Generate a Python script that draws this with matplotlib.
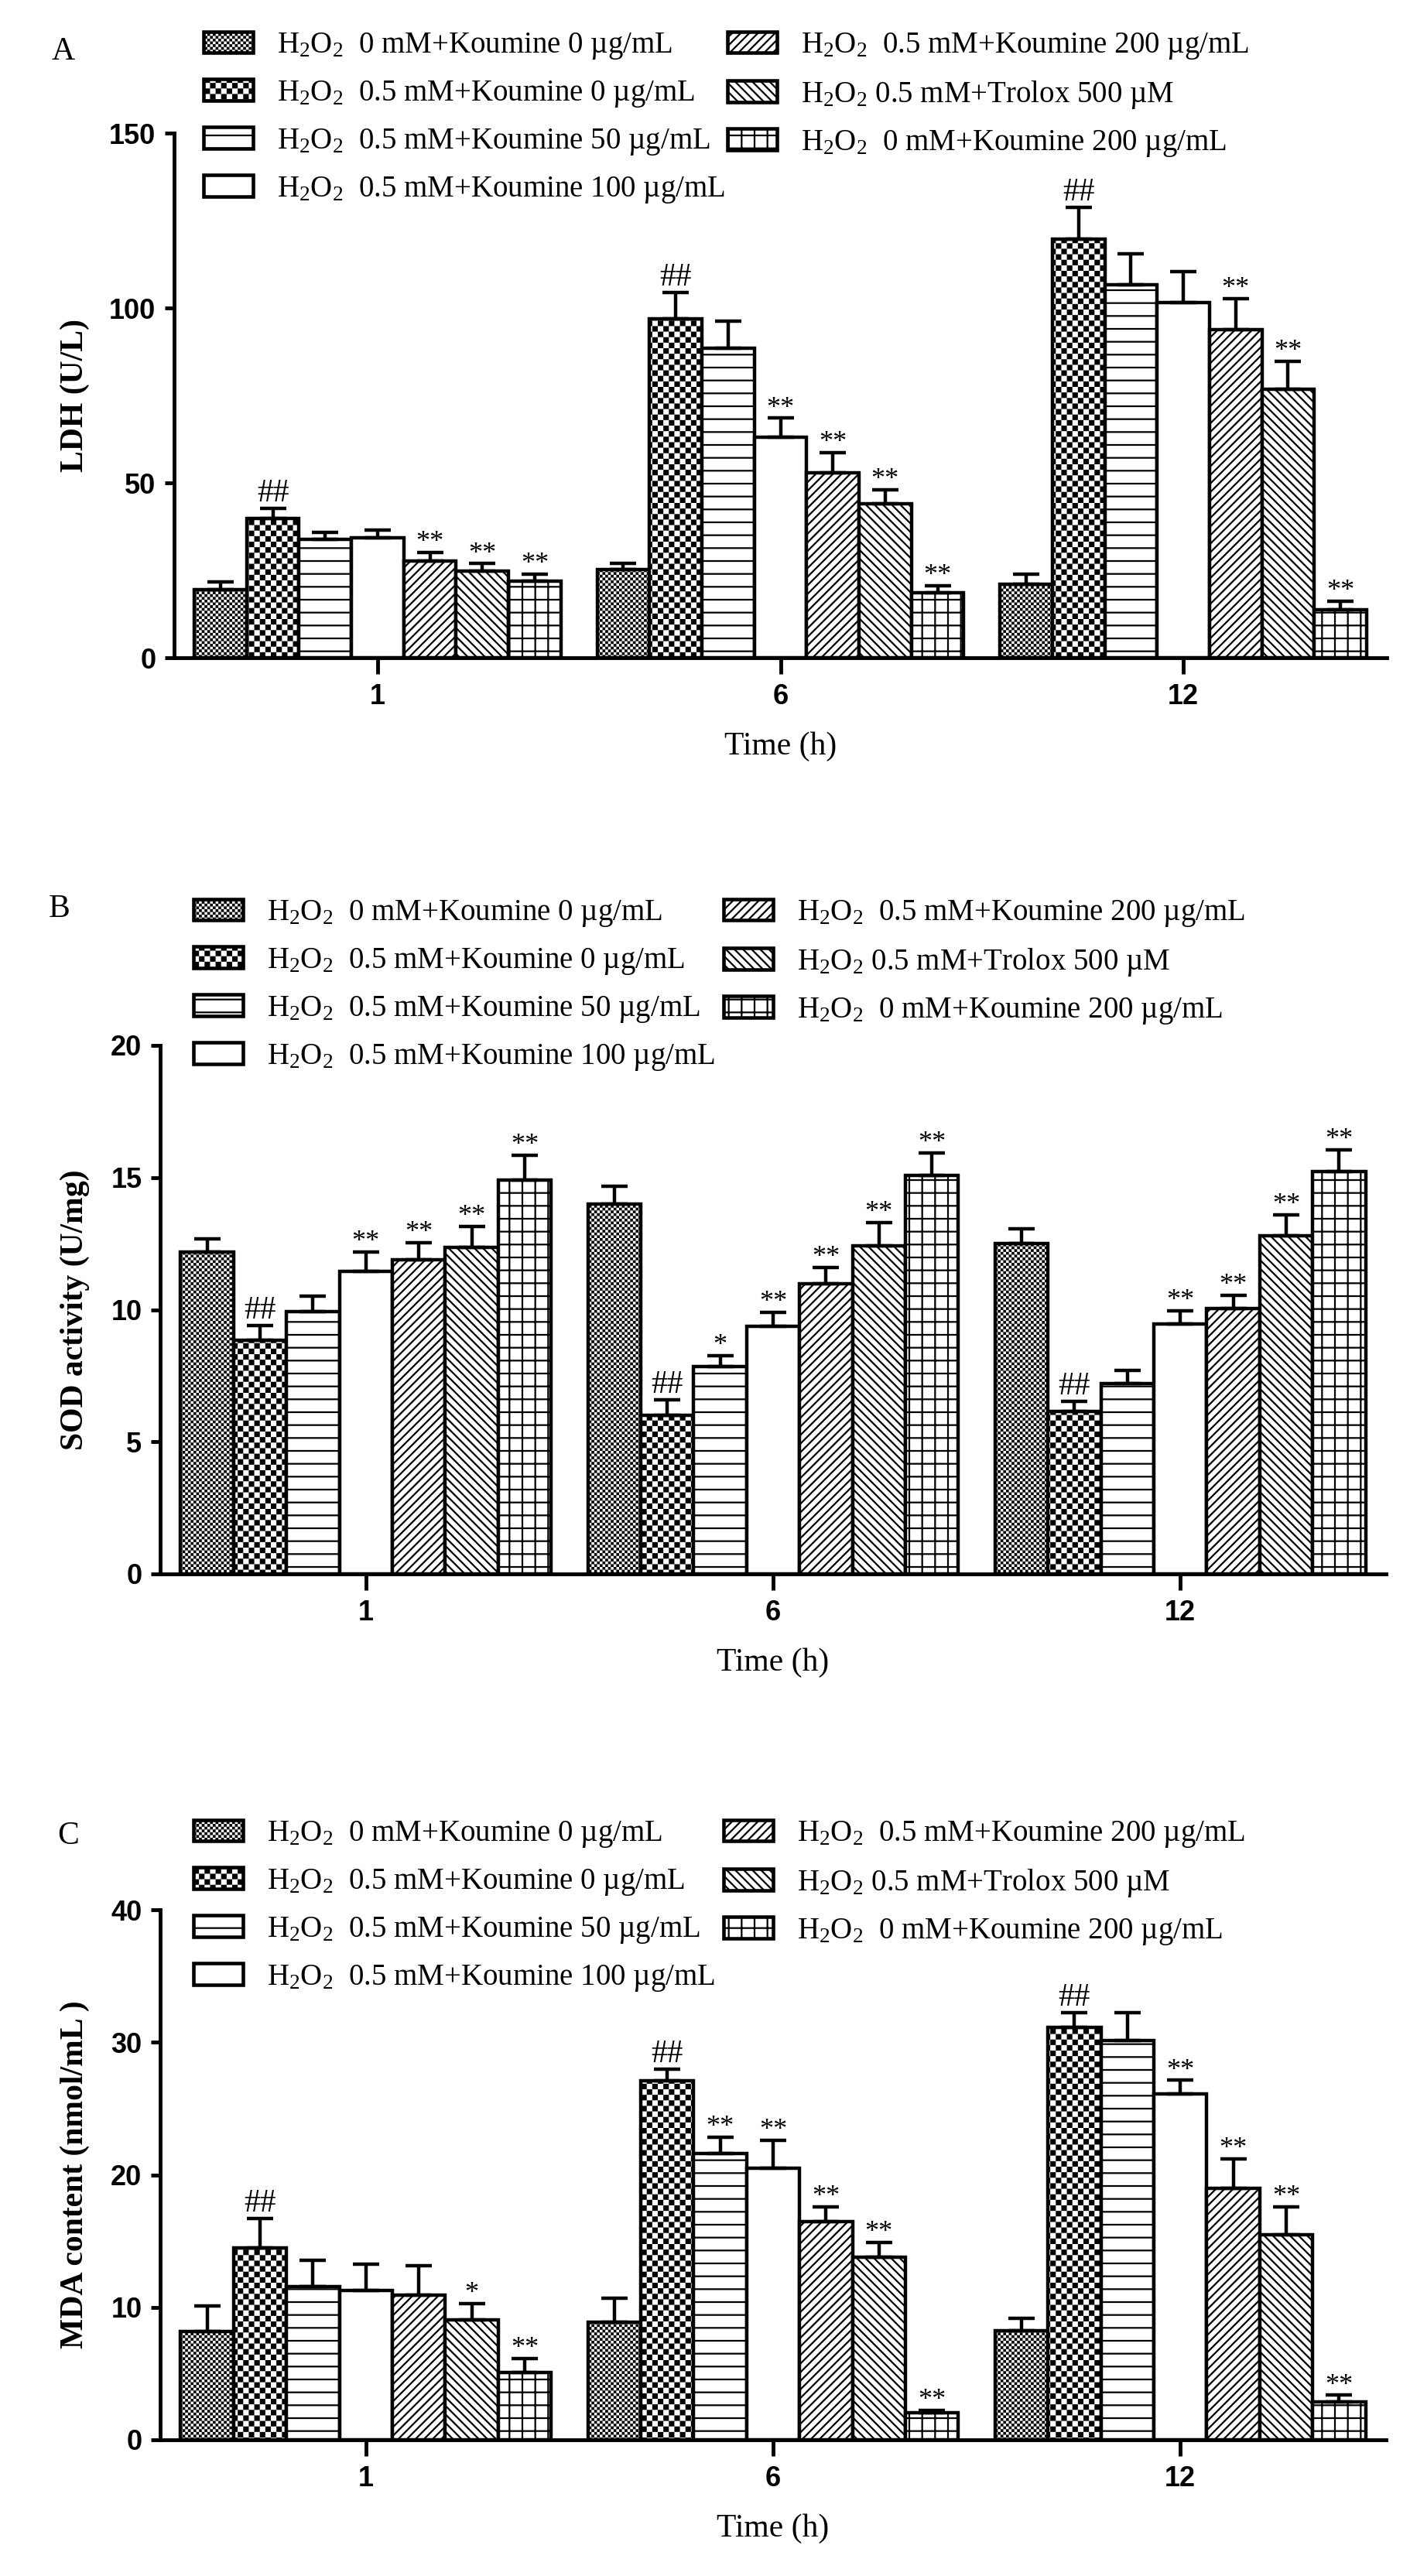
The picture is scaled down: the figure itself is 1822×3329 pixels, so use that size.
import numpy as np
import matplotlib
matplotlib.use('Agg')
import matplotlib.pyplot as plt
import matplotlib.hatch as mhatch
import matplotlib.patches as mpatches
from matplotlib.path import Path
from matplotlib.font_manager import FontProperties

# ---------------- data ----------------
times = ['1', '6', '12']
groups = [
    'H$_2$O$_2$  0 mM+Koumine 0 µg/mL',
    'H$_2$O$_2$  0.5 mM+Koumine 0 µg/mL',
    'H$_2$O$_2$  0.5 mM+Koumine 50 µg/mL',
    'H$_2$O$_2$  0.5 mM+Koumine 100 µg/mL',
    'H$_2$O$_2$  0.5 mM+Koumine 200 µg/mL',
    'H$_2$O$_2$ 0.5 mM+Trolox 500 µM',
    'H$_2$O$_2$  0 mM+Koumine 200 µg/mL',
]

ldh_mean = [[19.5, 25.3, 21.1], [39.8, 96.8, 119.8], [33.8, 88.4, 106.6], [34.3, 63.0, 101.5],
            [27.7, 52.8, 93.8], [24.8, 44.0, 76.7], [21.9, 18.5, 13.7]]
ldh_err = [[2.1, 1.6, 2.9], [3.0, 7.7, 9.0], [2.1, 7.9, 8.8], [2.3, 5.5, 8.8],
           [2.4, 5.8, 8.9], [2.1, 4.0, 8.0], [2.1, 2.1, 2.4]]
ldh_mark = [['', '', ''], ['##', '##', '##'], ['', '', ''], ['', '**', ''],
            ['**', '**', '**'], ['**', '**', '**'], ['**', '**', '**']]

sod_mean = [[12.19, 13.99, 12.50], [8.83, 6.00, 6.15], [9.94, 7.85, 7.19], [11.45, 9.36, 9.47],
            [11.90, 10.99, 10.03], [12.36, 12.43, 12.81], [14.90, 15.08, 15.22]]
sod_err = [[0.50, 0.67, 0.56], [0.57, 0.59, 0.38], [0.56, 0.42, 0.52], [0.73, 0.53, 0.49],
           [0.64, 0.60, 0.52], [0.80, 0.87, 0.78], [0.95, 0.84, 0.84]]
sod_mark = [['', '', ''], ['##', '##', '##'], ['', '*', ''], ['**', '**', '**'],
            ['**', '**', '**'], ['**', '**', '**'], ['**', '**', '**']]

mda_mean = [[8.18, 8.86, 8.24], [14.48, 27.07, 31.14], [11.57, 21.60, 30.15], [11.27, 20.52, 26.08],
            [10.93, 16.48, 18.98], [9.07, 13.80, 15.49], [5.06, 2.07, 2.84]]
mda_err = [[1.90, 1.85, 0.93], [2.20, 0.92, 1.08], [2.00, 1.24, 2.07], [2.00, 2.10, 1.05],
           [2.20, 1.10, 2.22], [1.20, 1.08, 2.07], [1.10, 0.15, 0.52]]
mda_mark = [['', '', ''], ['##', '##', '##'], ['', '**', ''], ['', '**', '**'],
            ['', '**', '**'], ['*', '**', '**'], ['**', '**', '**']]

# ---------------- style ----------------
plt.rcParams['font.family'] = ['Liberation Serif', 'DejaVu Serif']
plt.rcParams['mathtext.fontset'] = 'custom'
plt.rcParams['mathtext.rm'] = 'Liberation Serif'
plt.rcParams['mathtext.it'] = 'Liberation Serif:italic'
plt.rcParams['mathtext.bf'] = 'Liberation Serif:bold'
plt.rcParams['hatch.linewidth'] = 1.6
plt.rcParams['hatch.color'] = 'black'
HLW = plt.rcParams['hatch.linewidth']


class CheckerHatch(mhatch.HatchPatternBase):
    """Filled checkerboard hatch, selected with 'o' (coarse) / 'oo' (fine)."""
    cells = {1: 14, 2: 28}

    def __init__(self, hatch, density):
        k = hatch.count('o')
        self.n = self.cells.get(k, 0)
        self.num_vertices = (self.n * self.n // 2) * 5

    def set_vertices_and_codes(self, vertices, codes):
        n = self.n
        s = 1.0 / n
        d = min(HLW / 144.0, s * 0.3)
        k = 0
        for i in range(n):
            for j in range(n):
                if (i + j) % 2 == 0:
                    x0, y0 = i * s + d, j * s + d
                    x1, y1 = (i + 1) * s - d, (j + 1) * s - d
                    vertices[k:k + 5] = [(x0, y0), (x1, y0), (x1, y1), (x0, y1), (x0, y0)]
                    codes[k:k + 5] = [Path.MOVETO, Path.LINETO, Path.LINETO,
                                      Path.LINETO, Path.CLOSEPOLY]
                    k += 5


mhatch._hatch_types[:] = [t for t in mhatch._hatch_types
                          if t is not mhatch.SmallCircles] + [CheckerHatch]

hatches = ['oo', 'o', '-', '', '///', '\\\\\\', '+']
EDGE_LW = 3.2
SPINE_LW = 3.5

W, H = 1822, 3329
fig = plt.figure(figsize=(W / 100, H / 100), dpi=100)


def px_axes(left, right, top, bottom):
    return fig.add_axes([left / W, 1 - bottom / H, (right - left) / W, (bottom - top) / H])


def draw_panel(ax, means, errs, marks, ymax, yticks, ylabel, ylab_x, xlab_y):
    x = np.arange(len(times))
    w = 0.13
    for i in range(len(groups)):
        xi = x + (i - 3) * w
        m = np.array(means[i])
        e = np.array(errs[i])
        ax.bar(xi, m, width=w, facecolor='white', edgecolor='black',
               linewidth=EDGE_LW, hatch=hatches[i], zorder=2)
        ax.errorbar(xi, m, yerr=[np.zeros_like(e), e], fmt='none', ecolor='black',
                    elinewidth=EDGE_LW, capsize=12, capthick=EDGE_LW, zorder=3)
        for j in range(len(times)):
            mk = marks[i][j]
            if mk:
                if '#' in mk:
                    fs, off = 30, 0
                else:
                    fs, off = 26, -3
                ax.annotate(mk, (xi[j], m[j] + e[j]), xytext=(0, off),
                            textcoords='offset points', ha='center', va='bottom',
                            fontsize=fs, family='Liberation Serif')
    ax.set_xlim(-0.505, 2.505)
    ax.set_ylim(0, ymax)
    ax.set_yticks(yticks)
    ax.set_xticks(x)
    ax.set_xticklabels(times)
    for s in ['top', 'right']:
        ax.spines[s].set_visible(False)
    for s in ['left', 'bottom']:
        ax.spines[s].set_linewidth(SPINE_LW)
    ax.tick_params(axis='x', length=15, width=SPINE_LW, pad=9, labelsize=26)
    ax.tick_params(axis='y', length=9, width=SPINE_LW, pad=8, labelsize=26)
    for lab in ax.get_xticklabels() + ax.get_yticklabels():
        lab.set_fontfamily('Liberation Sans')
        lab.set_fontweight('bold')
    ax.set_ylabel(ylabel, fontsize=30, fontweight='bold', family='Liberation Serif')
    ax.yaxis.set_label_coords(ylab_x, 0.5)
    ax.set_xlabel('Time (h)', fontsize=30, family='Liberation Serif')
    ax.xaxis.set_label_coords(0.5, xlab_y)


def add_legend(x1, x2, ytop):
    handles = [mpatches.Patch(facecolor='white', edgecolor='black', hatch=h,
                              linewidth=3.3) for h in hatches]
    prop = FontProperties(family='Liberation Serif', size=28)
    kw = dict(loc='upper left', frameon=False, borderpad=0, borderaxespad=0,
              prop=prop, handlelength=1.65, handleheight=0.72, handletextpad=0.8,
              labelspacing=0.59)
    fig.legend(handles[:4], groups[:4], bbox_to_anchor=(x1 / W, 1 - ytop / H), **kw)
    fig.legend(handles[4:], groups[4:], bbox_to_anchor=(x2 / W, 1 - ytop / H), **kw)


# Panel A
axA = px_axes(225, 1792, 172, 850)
draw_panel(axA, ldh_mean, ldh_err, ldh_mark, 150, [0, 50, 100, 150], 'LDH (U/L)',
           (116 - 225) / 1567, -95 / 678)
add_legend(263, 940, 40)
fig.text(82 / W, 1 - 67 / H, 'A', fontsize=30, ha='center', va='center')

# Panel B
axB = px_axes(207, 1791, 1351, 2034)
draw_panel(axB, sod_mean, sod_err, sod_mark, 20, [0, 5, 10, 15, 20], 'SOD activity (U/mg)',
           (116 - 207) / 1584, -95 / 683)
add_legend(250, 935, 1161)
fig.text(77 / W, 1 - 1175 / H, 'B', fontsize=30, ha='center', va='center')

# Panel C
axC = px_axes(207, 1791, 2468, 3153)
draw_panel(axC, mda_mean, mda_err, mda_mark, 40, [0, 10, 20, 30, 40], 'MDA content (nmol/mL )',
           (116 - 207) / 1584, -95 / 685)
add_legend(250, 935, 2351)
fig.text(88 / W, 1 - 2373 / H, 'C', fontsize=30, ha='center', va='center')

fig.savefig('out.png', dpi=100)
